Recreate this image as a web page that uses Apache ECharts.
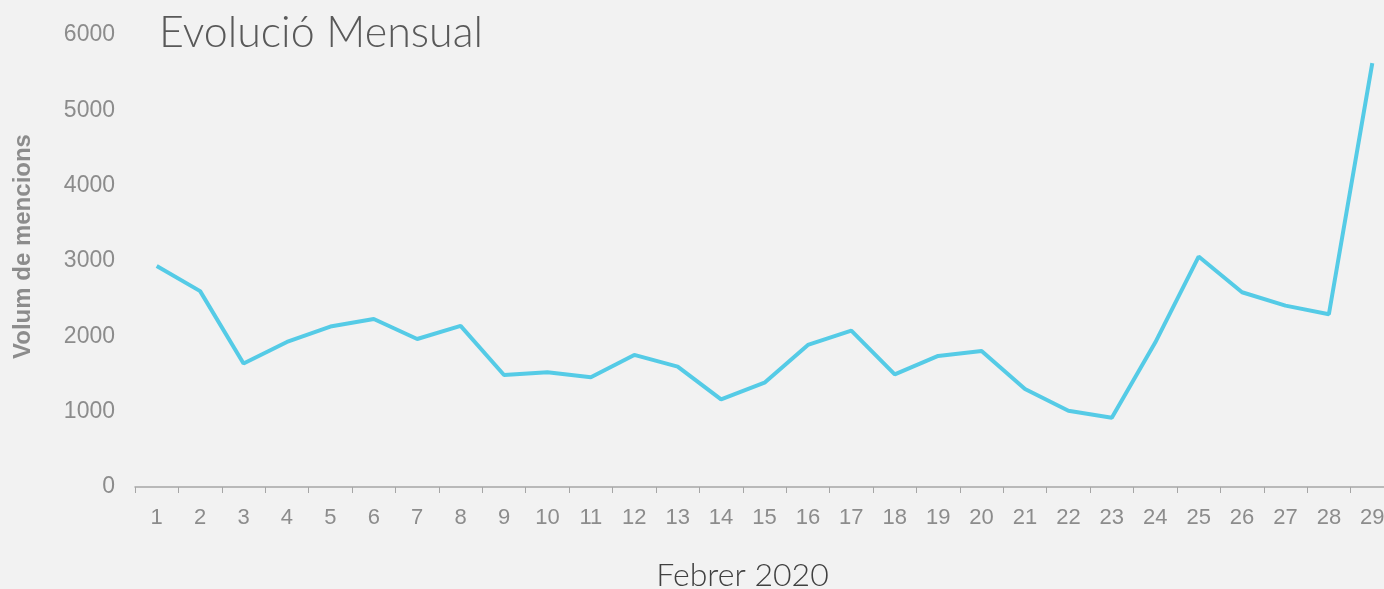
<!DOCTYPE html>
<html>
<head>
<meta charset="utf-8">
<script src="https://cdn.jsdelivr.net/npm/echarts@6/dist/echarts.min.js"></script>
<style>
html,body{margin:0;padding:0;background:#f2f2f2;}
#c{width:1384px;height:589px;}
</style>
</head>
<body>
<div id="c"></div>
<script>
const days = ['1','2','3','4','5','6','7','8','9','10','11','12','13','14','15','16','17','18','19','20','21','22','23','24','25','26','27','28','29'];
const mentions = [2935,2600,1640,1925,2130,2230,1965,2138,1487,1523,1457,1753,1598,1164,1385,1886,2076,1496,1740,1806,1301,1013,920,1917,3059,2585,2408,2293,5627];
const yTicks = {min:0, max:6000, interval:1000};
const titleText = 'Evolució Mensual';
const xName = 'Febrer 2020';
const yName = 'Volum de mencions';

const chart = echarts.init(document.getElementById('c'));
chart.setOption({
  backgroundColor:'#f2f2f2',
  animation:false,
  title:{text:titleText, left:154, top:7,
    textStyle:{fontFamily:'Lato', fontWeight:300, fontSize:43, color:'#595959'}},
  grid:{left:135, right:-10, top:35, bottom:102, outerBoundsMode:'none', containLabel:false},
  xAxis:{type:'category', data:days, boundaryGap:true,
    name:xName, nameLocation:'middle', nameGap:73,
    nameTextStyle:{fontFamily:'Lato', fontWeight:300, fontSize:32, color:'#404040', padding:[0,44,0,0]},
    axisLine:{lineStyle:{color:'#a6a6a6', width:1.5}},
    axisTick:{show:true, length:6, lineStyle:{color:'#a6a6a6'}},
    axisLabel:{fontFamily:'Liberation Sans', fontSize:22, color:'#8c8c8c', margin:20}
  },
  yAxis:{type:'value', min:yTicks.min, max:yTicks.max, interval:yTicks.interval,
    name:yName, nameLocation:'middle', nameGap:100, nameRotate:90,
    nameTextStyle:{fontFamily:'Liberation Sans', fontWeight:'bold', fontSize:24, color:'#8c8c8c', padding:[0,0,0,29]},
    axisLine:{show:false}, axisTick:{show:false}, splitLine:{show:false},
    axisLabel:{fontFamily:'Liberation Sans', fontSize:23, color:'#8c8c8c', margin:20,
      formatter:function(v){return String(v);}}
  },
  series:[{type:'line', data:mentions, showSymbol:false, symbol:'none',
    lineStyle:{color:'#55cbe6', width:4}, itemStyle:{color:'#55cbe6'}}]
});
</script>
</body>
</html>
